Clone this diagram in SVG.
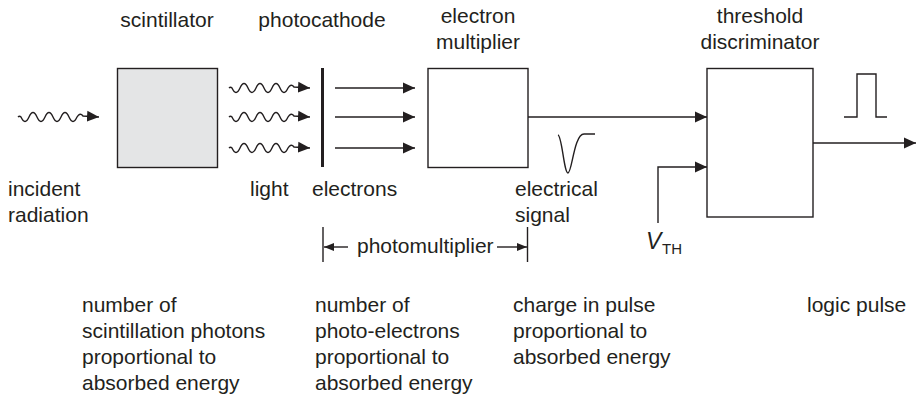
<svg xmlns="http://www.w3.org/2000/svg" width="916" height="397" viewBox="0 0 916 397">
<style>
text{font-family:"Liberation Sans",Arial,Helvetica,sans-serif;font-size:21px;fill:#231f20}
.ln{fill:none;stroke:#231f20;stroke-width:1.4}
.box{fill:#fff;stroke:#231f20;stroke-width:1.4}
.ah{fill:#231f20;stroke:none}
</style>
<defs>
<marker id="arr" markerUnits="userSpaceOnUse" markerWidth="13" markerHeight="12" refX="12" refY="6" orient="auto">
<path class="ah" d="M0,0.5 L12,6 L0,11.5 Z"/>
</marker>
<marker id="arrs" markerUnits="userSpaceOnUse" markerWidth="11" markerHeight="10" refX="10" refY="5" orient="auto-start-reverse">
<path class="ah" d="M0,1 L10,5 L0,9 Z"/>
</marker>
<path id="wave" class="ln" d="M0,0 Q1.5,-1.5 3,0 q4,9 8,0 t8,0 t8,0 t8,0 t8,0 t8,0 t8,0 q3,-5 6,-1 L81,0" marker-end="url(#arr)"/>
</defs>

<g id="incident">
<use href="#wave" x="18" y="117"/>
<text x="8" y="196">incident</text>
<text x="8" y="222">radiation</text>
</g>

<g id="scintillator">
<rect x="117.5" y="68.5" width="100" height="99" fill="#e4e5e6" stroke="#231f20" stroke-width="1.4"/>
<text x="167" y="27" text-anchor="middle">scintillator</text>
</g>

<g id="light">
<use href="#wave" x="229" y="88"/>
<use href="#wave" x="229" y="117"/>
<use href="#wave" x="229" y="148"/>
<text x="250" y="196">light</text>
</g>

<g id="photocathode">
<line x1="322.5" y1="68" x2="322.5" y2="167" stroke="#231f20" stroke-width="3"/>
<text x="322" y="27" text-anchor="middle">photocathode</text>
<text x="312" y="196">electrons</text>
</g>

<g id="multiplier">
<rect class="box" x="428" y="68.5" width="100" height="99"/>
<text x="478" y="23" text-anchor="middle">electron</text>
<text x="478" y="48.5" text-anchor="middle">multiplier</text>
</g>

<g id="discriminator">
<rect class="box" x="707" y="68.5" width="106" height="148.5"/>
<text x="760" y="23" text-anchor="middle">threshold</text>
<text x="760" y="48.5" text-anchor="middle">discriminator</text>
</g>

<g id="signal">
<path class="ln" d="M558,135 C562,136 564,173 568,173 C572,173 574,134 584,134 L595,134"/>
<text x="515" y="196">electrical</text>
<text x="515" y="222">signal</text>
</g>

<g id="vth">
<text x="646" y="249" font-style="italic" style="font-size:23px">V</text>
<text x="662" y="254" style="font-size:15px">TH</text>
</g>

<g id="logicpulse">
<path class="ln" d="M844,117 L857,117 L857,74 L876,74 L876,117 L887,117"/>
</g>

<g id="connectors">
<line class="ln" x1="335" y1="88" x2="415" y2="88" marker-end="url(#arr)"/>
<line class="ln" x1="335" y1="117" x2="415" y2="117" marker-end="url(#arr)"/>
<line class="ln" x1="335" y1="148" x2="415" y2="148" marker-end="url(#arr)"/>
<line class="ln" x1="528" y1="117" x2="707" y2="117" marker-end="url(#arr)"/>
<path class="ln" d="M658,223 L658,167 L707,167" marker-end="url(#arr)"/>
<line class="ln" x1="813" y1="143" x2="916" y2="143" marker-end="url(#arr)"/>
</g>

<g id="photomultiplier">
<line class="ln" x1="323" y1="227" x2="323" y2="262"/>
<line class="ln" x1="527.5" y1="227" x2="527.5" y2="262"/>
<line class="ln" x1="324" y1="247" x2="348" y2="247" marker-start="url(#arrs)"/>
<line class="ln" x1="497" y1="247" x2="527" y2="247" marker-end="url(#arrs)"/>
<text x="357" y="253">photomultiplier</text>
</g>

<g id="notes">
<text x="82" y="312">number of</text>
<text x="82" y="338">scintillation photons</text>
<text x="82" y="364">proportional to</text>
<text x="82" y="390">absorbed energy</text>
<text x="315" y="312">number of</text>
<text x="315" y="338">photo-electrons</text>
<text x="315" y="364">proportional to</text>
<text x="315" y="390">absorbed energy</text>
<text x="513" y="312">charge in pulse</text>
<text x="513" y="338">proportional to</text>
<text x="513" y="364">absorbed energy</text>
<text x="807" y="312">logic pulse</text>
</g>
</svg>
